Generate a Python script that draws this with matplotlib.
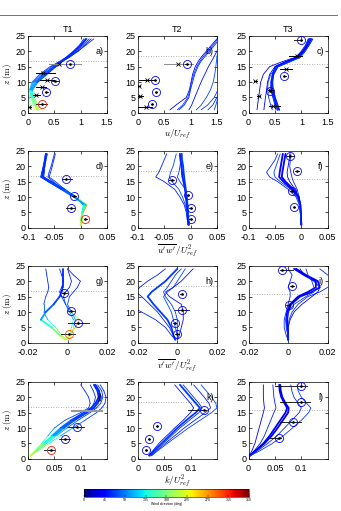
import numpy as np
import matplotlib
matplotlib.use("Agg")
import matplotlib.pyplot as plt
from matplotlib.collections import LineCollection
from matplotlib.lines import Line2D
from matplotlib.colors import Normalize
from matplotlib.colorbar import ColorbarBase

plt.rcParams['font.family'] = ['Liberation Sans', 'DejaVu Sans']
plt.rcParams['mathtext.fontset'] = 'cm'

# ---------------- DATA ----------------
Z = [1, 2.5, 5, 7.5, 10, 12.5, 15, 16.5, 18, 20, 22, 24]
DIR_T1_Z = [215, 195, 160, 120, 85, 70, 65, 62, 60, 60, 60, 60]
DIR_T1_ALT = [225, 240, 265, 275, 110, 72, 65, 62, 60, 60, 60, 60]

COLS = ["T1", "T2", "T3"]
PANEL_LABELS = ["a)", "b)", "c)", "d)", "e)", "f)", "g)", "h)", "i)", "j)", "k)", "l)"]
XLABELS = [r"$u/U_{ref}$", r"$\overline{u'w'}\,/U_{ref}^{2}$",
           r"$\overline{v'w'}\,/U_{ref}^{2}$", r"$k/U_{ref}^{2}$"]
XTICKS = [[0, 0.5, 1, 1.5], [-0.1, -0.05, 0, 0.05], [-0.02, 0, 0.02], [0, 0.05, 0.1]]
XTICKLABELS = [["0", "0.5", "1", "1.5"], ["-0.1", "-0.05", "0", "0.05"],
               ["-0.02", "0", "0.02"], ["0", "0.05", "0.1"]]
XLIMS = [(0, 1.5), (-0.1, 0.05), (-0.02, 0.02), (0, 0.15)]
YTICKS = [0, 5, 10, 15, 20, 25]
HUB_Z = [16.7, 18.5, 15.8]

# Row 1: u/U_ref
U_T1 = [[0.20, 0.15, 0.08, 0.04, 0.10, 0.25, 0.45, 0.60, 0.75, 0.90, 1.02, 1.12],
        [0.25, 0.20, 0.12, 0.06, 0.14, 0.30, 0.50, 0.64, 0.78, 0.95, 1.08, 1.20],
        [0.12, 0.10, 0.06, 0.03, 0.08, 0.22, 0.42, 0.58, 0.72, 0.86, 0.98, 1.06],
        [0.18, 0.14, 0.09, 0.08, 0.18, 0.35, 0.52, 0.62, 0.74, 0.88, 1.00, 1.10],
        [0.05, 0.04, 0.03, 0.05, 0.15, 0.32, 0.50, 0.63, 0.78, 0.95, 1.10, 1.25],
        [0.22, 0.17, 0.10, 0.05, 0.12, 0.28, 0.48, 0.62, 0.77, 0.92, 1.05, 1.16]]
U_T2 = [[0.61, 0.72, 0.92, 0.98, 1.01, 1.04, 1.09, 1.14, 1.20, 1.30, 1.40, 1.50],
        [0.75, 0.85, 0.95, 0.99, 1.02, 1.06, 1.12, 1.17, 1.23, 1.33, 1.43, 1.52],
        [0.78, 0.88, 0.97, 1.00, 1.04, 1.08, 1.14, 1.19, 1.26, 1.36, 1.46, 1.55],
        [0.97, 1.02, 1.08, 1.14, 1.20, 1.27, 1.34, 1.39, 1.44, 1.50, 1.56, 1.62],
        [1.11, 1.20, 1.30, 1.38, 1.43, 1.46, 1.48, 1.49, 1.50, 1.52, 1.55, 1.60],
        [1.20, 1.32, 1.45, 1.52, 1.56, 1.60, 1.62, 1.64, 1.66, 1.68, 1.70, 1.72],
        [1.33, 1.42, 1.50, 1.56, 1.60, 1.63, 1.66, 1.68, 1.70, 1.72, 1.74, 1.76],
        [1.45, 1.48, 1.52, 1.56, 1.60, 1.63, 1.66, 1.68, 1.70, 1.72, 1.74, 1.76]]
U_T3 = [[0.58, 0.55, 0.50, 0.46, 0.45, 0.47, 0.55, 0.75, 0.95, 1.05, 1.12, 1.18],
        [0.55, 0.52, 0.48, 0.44, 0.44, 0.46, 0.52, 0.72, 0.92, 1.03, 1.10, 1.15],
        [0.52, 0.50, 0.46, 0.42, 0.42, 0.45, 0.50, 0.68, 0.90, 1.00, 1.08, 1.13],
        [0.16, 0.17, 0.19, 0.21, 0.23, 0.28, 0.40, 0.62, 0.88, 1.02, 1.12, 1.20],
        [0.29, 0.30, 0.32, 0.34, 0.36, 0.40, 0.50, 0.70, 0.92, 1.05, 1.15, 1.22],
        [0.45, 0.42, 0.38, 0.36, 0.37, 0.42, 0.55, 0.78, 0.98, 1.08, 1.15, 1.20]]
DIR_U_T2 = [40, 65, 60, 50, 70, 65, 60, 68]
DIR_U_T3 = [55, 60, 50, 35, 40, 65]

# Row 2: u'w'
UW_T1 = [[0.0, 0.001, 0.003, 0.010, -0.012, -0.035, -0.060, -0.074, -0.072, -0.070, -0.068, -0.066],
         [0.0, 0.002, 0.004, 0.008, -0.014, -0.038, -0.062, -0.076, -0.074, -0.071, -0.068, -0.064],
         [0.0, 0.001, 0.003, 0.006, -0.010, -0.032, -0.057, -0.072, -0.071, -0.069, -0.067, -0.066],
         [0.0, 0.002, 0.005, 0.012, -0.008, -0.030, -0.055, -0.070, -0.069, -0.068, -0.066, -0.063],
         [0.0, 0.002, 0.004, 0.006, -0.012, -0.035, -0.052, -0.062, -0.060, -0.056, -0.053, -0.050],
         [0.0, 0.001, 0.003, 0.005, -0.010, -0.030, -0.048, -0.060, -0.057, -0.054, -0.051, -0.048]]
UW_T2 = [[-0.004, -0.005, -0.006, -0.007, -0.008, -0.009, -0.011, -0.012, -0.013, -0.014, -0.016, -0.017],
         [-0.003, -0.004, -0.005, -0.006, -0.008, -0.010, -0.013, -0.015, -0.016, -0.017, -0.019, -0.020],
         [-0.005, -0.006, -0.008, -0.012, -0.020, -0.030, -0.050, -0.066, -0.060, -0.055, -0.050, -0.045],
         [-0.004, -0.005, -0.007, -0.010, -0.015, -0.022, -0.035, -0.040, -0.038, -0.033, -0.030, -0.027],
         [-0.002, -0.003, -0.004, -0.005, -0.006, -0.010, -0.020, -0.025, -0.022, -0.020, -0.018, -0.016],
         [-0.004, -0.005, -0.006, -0.008, -0.009, -0.011, -0.014, -0.016, -0.017, -0.018, -0.019, -0.021]]
UW_T3 = [[0.0, -0.0005, -0.001, -0.002, -0.005, -0.015, -0.030, -0.037, -0.036, -0.034, -0.032, -0.030],
         [0.0, -0.0005, -0.001, -0.002, -0.006, -0.018, -0.034, -0.042, -0.041, -0.039, -0.037, -0.035],
         [0.0, -0.001, -0.002, -0.004, -0.010, -0.025, -0.045, -0.060, -0.066, -0.058, -0.050, -0.045],
         [0.0, -0.0005, -0.001, -0.002, -0.004, -0.008, -0.015, -0.018, -0.020, -0.022, -0.021, -0.020],
         [0.0, -0.0005, -0.001, -0.002, -0.005, -0.012, -0.022, -0.026, -0.027, -0.025, -0.023, -0.022],
         [0.0, -0.001, -0.002, -0.003, -0.008, -0.020, -0.040, -0.050, -0.052, -0.048, -0.044, -0.040]]
DIR_UW_T2 = [65, 60, 55, 70, 65, 60]
DIR_UW_T3 = [45, 40, 60, 55, 35, 65]

# Row 3: v'w'
VW_T1 = [[-0.001, -0.004, -0.008, -0.0135, -0.011, -0.007, -0.004, -0.003, -0.0025, -0.0025, -0.0025, -0.0025],
         [0.0, -0.003, -0.006, -0.010, -0.012, -0.012, -0.011, -0.010, -0.0095, -0.010, -0.0105, -0.011],
         [0.001, 0.002, 0.003, 0.004, 0.002, 0.000, 0.001, 0.003, 0.005, 0.0065, 0.003, 0.000],
         [0.0, 0.001, 0.002, 0.003, 0.001, -0.001, -0.002, -0.001, 0.001, 0.002, 0.001, 0.000],
         [0.0, 0.001, 0.004, 0.006, 0.002, -0.001, -0.003, -0.004, -0.003, -0.002, -0.003, -0.004]]
VW_T2 = [[-0.001, -0.002, -0.003, -0.005, -0.0085, -0.012, -0.015, -0.013, -0.010, -0.006, -0.003, 0.000],
         [-0.001, -0.003, -0.006, -0.011, -0.018, -0.026, -0.034, -0.036, -0.034, -0.030, -0.026, -0.022],
         [-0.001, -0.002, -0.004, -0.007, -0.010, -0.014, -0.018, -0.021, -0.019, -0.015, -0.010, -0.006],
         [0.0, 0.0, -0.001, -0.002, -0.003, -0.005, -0.007, -0.005, -0.002, 0.000, 0.002, 0.004],
         [0.0, 0.001, 0.002, 0.003, 0.003, 0.002, -0.004, -0.006, -0.002, 0.002, 0.005, 0.008],
         [0.0, 0.0, 0.0, 0.0, -0.001, -0.003, -0.006, -0.007, -0.005, -0.003, -0.001, 0.002]]
VW_T3 = [[0.0, 0.0, -0.0003, -0.0005, 0.0, 0.0015, 0.006, 0.012, 0.016, 0.015, 0.009, 0.004],
         [0.0, 0.0, -0.0005, -0.001, -0.0005, 0.001, 0.005, 0.010, 0.014, 0.014, 0.008, 0.003],
         [0.0, 0.0, 0.0, 0.0005, 0.002, 0.005, 0.010, 0.016, 0.020, 0.024, 0.020, 0.016],
         [0.0, -0.001, -0.002, -0.002, -0.001, 0.0, 0.001, 0.001, 0.000, 0.001, 0.002, 0.000],
         [0.0, 0.0, 0.0, 0.001, 0.003, 0.007, 0.012, 0.015, 0.016, 0.013, 0.008, 0.006],
         [0.0, 0.0, -0.001, -0.001, 0.0, 0.003, 0.009, 0.013, 0.013, 0.012, 0.010, 0.009]]
DIR_VW_T2 = [65, 60, 55, 70, 50, 65]
DIR_VW_T3 = [45, 40, 60, 55, 35, 65]

# Row 4: k
K_T1 = [[0.005, 0.015, 0.033, 0.050, 0.068, 0.088, 0.112, 0.125, 0.132, 0.137, 0.135, 0.128],
        [0.005, 0.016, 0.035, 0.054, 0.074, 0.095, 0.118, 0.130, 0.138, 0.142, 0.140, 0.132],
        [0.005, 0.014, 0.030, 0.046, 0.062, 0.082, 0.106, 0.120, 0.128, 0.134, 0.132, 0.125],
        [0.005, 0.018, 0.040, 0.062, 0.085, 0.108, 0.130, 0.140, 0.146, 0.148, 0.144, 0.137],
        [0.005, 0.013, 0.026, 0.038, 0.050, 0.070, 0.100, 0.115, 0.118, 0.115, 0.108, 0.100],
        [0.005, 0.015, 0.032, 0.048, 0.065, 0.085, 0.110, 0.120, 0.125, 0.128, 0.124, 0.118]]
K_T2 = [[0.022, 0.030, 0.045, 0.060, 0.075, 0.092, 0.110, 0.118, 0.110, 0.100, 0.090, 0.080],
        [0.024, 0.033, 0.048, 0.064, 0.080, 0.098, 0.116, 0.122, 0.116, 0.106, 0.096, 0.086],
        [0.025, 0.035, 0.052, 0.070, 0.088, 0.108, 0.128, 0.138, 0.135, 0.126, 0.116, 0.106],
        [0.026, 0.037, 0.056, 0.076, 0.096, 0.118, 0.140, 0.150, 0.148, 0.140, 0.130, 0.120],
        [0.020, 0.028, 0.040, 0.055, 0.070, 0.086, 0.100, 0.106, 0.100, 0.090, 0.080, 0.070]]
K_T3 = [[0.001, 0.006, 0.012, 0.016, 0.020, 0.024, 0.028, 0.030, 0.029, 0.028, 0.028, 0.028],
        [0.002, 0.010, 0.022, 0.030, 0.036, 0.042, 0.048, 0.052, 0.050, 0.048, 0.047, 0.046],
        [0.002, 0.012, 0.028, 0.040, 0.050, 0.060, 0.070, 0.073, 0.068, 0.062, 0.059, 0.058],
        [0.002, 0.013, 0.030, 0.044, 0.055, 0.065, 0.075, 0.076, 0.070, 0.064, 0.061, 0.060],
        [0.003, 0.016, 0.036, 0.054, 0.068, 0.082, 0.096, 0.100, 0.094, 0.086, 0.082, 0.080],
        [0.003, 0.020, 0.045, 0.066, 0.083, 0.100, 0.114, 0.118, 0.110, 0.100, 0.094, 0.092]]
DIR_K_T2 = [65, 60, 55, 70, 50]
DIR_K_T3 = [35, 55, 45, 40, 60, 65]

# Measurements: circles (x, z, err lo, err hi, direction)
CX = [[0.79, 0.52, 0.35, 0.26], [0.93, 0.32, 0.34, 0.27], [1.0, 0.68, 0.41],
      [-0.027, -0.012, -0.018, 0.009], [-0.036, -0.004, 0.0, 0.0], [-0.022, -0.008, -0.018, -0.014],
      [-0.0017, 0.002, 0.0054, 0.0005], [0.0022, 0.0022, -0.0012, 0.0], [-0.003, 0.002, 0.0002],
      [0.093, 0.070, 0.043], [0.125, 0.037, 0.022, 0.016], [0.100, 0.100, 0.085, 0.057]]
CZ = [[15.8, 10.4, 6.7, 3.0], [15.8, 10.6, 6.7, 3.0], [23.5, 12.1, 7.0],
      [15.8, 10.2, 6.5, 2.9], [15.6, 10.8, 6.5, 2.9], [23.4, 18.3, 11.9, 6.8],
      [16.0, 10.3, 6.5, 2.9], [15.8, 10.5, 6.5, 3.0], [23.6, 18.5, 12.3],
      [10.4, 6.6, 3.0], [15.8, 10.6, 6.6, 3.0], [23.6, 18.5, 12.0, 6.9]]
CLO = [[0.79, 0.45, 0.32, 0.16], [0.90, 0.30, 0.32, 0.25], [0.87, 0.66, 0.39],
       [-0.036, -0.016, -0.027, 0.006], [-0.040, -0.006, -0.002, -0.002], [-0.030, -0.012, -0.022, -0.016],
       [-0.003, 0.0, 0.0, -0.0035], [0.0015, -0.001, -0.002, -0.001], [-0.004, 0.001, -0.001],
       [0.075, 0.059, 0.030], [0.096, 0.035, 0.020, 0.014], [0.050, 0.060, 0.060, 0.040]]
CHI = [[0.79, 0.58, 0.38, 0.36], [0.96, 0.34, 0.36, 0.29], [1.02, 0.70, 0.43],
       [-0.016, -0.008, -0.010, 0.012], [-0.032, -0.002, 0.002, 0.002], [-0.013, -0.004, -0.014, -0.012],
       [-0.0005, 0.0035, 0.011, 0.004], [0.003, 0.006, -0.0005, 0.001], [0.0025, 0.003, 0.001],
       [0.106, 0.080, 0.052], [0.130, 0.039, 0.024, 0.018], [0.110, 0.116, 0.100, 0.062]]
CDIR = [[45, 45, 45, 320], [45, 45, 45, 45], [45, 45, 45],
        [45, 45, 45, 320], [45, 45, 45, 45], [45, 45, 45, 45],
        [45, 45, 45, 300], [45, 45, 45, 45], [45, 45, 45],
        [45, 45, 320], [45, 45, 45, 45], [45, 45, 45, 45]]

# Row-1 cross markers (x, z, err lo, err hi)
XX = [[0.58, 0.28, 0.37, 0.26, 0.16, 0.02], [0.76, 0.18, 0.02, 0.05, 0.16],
      [0.92, 0.70, 0.13, 0.41, 0.19, 0.47]]
XZ = [[15.9, 12.9, 10.8, 8.4, 5.7, 1.9], [15.8, 10.8, 8.6, 5.6, 1.9],
      [18.3, 14.2, 10.5, 7.5, 5.6, 2.4]]
XLO = [[0.39, 0.16, 0.23, 0.16, 0.10, 0.00], [0.50, 0.03, 0.00, 0.00, 0.00],
       [0.76, 0.60, 0.11, 0.36, 0.16, 0.38]]
XHI = [[1.00, 0.52, 0.50, 0.35, 0.22, 0.05], [1.04, 0.32, 0.04, 0.10, 0.27],
       [1.01, 0.82, 0.15, 0.46, 0.22, 0.60]]

# Extra gray error bar in panel j)
JBAR_Z = 15.5
JBAR_LO = 0.083
JBAR_HI = 0.140

PROFILES = [[U_T1, U_T2, U_T3], [UW_T1, UW_T2, UW_T3], [VW_T1, VW_T2, VW_T3], [K_T1, K_T2, K_T3]]
DIRS = [[None, DIR_U_T2, DIR_U_T3], [None, DIR_UW_T2, DIR_UW_T3],
        [None, DIR_VW_T2, DIR_VW_T3], [None, DIR_K_T2, DIR_K_T3]]

# ---------------- STYLE ----------------
THICK = [[[0, 0, 0, 1, 0, 0], [0, 0, 0, 0, 0, 0, 0, 0], [1, 1, 0, 0, 0, 0]],
         [[1, 0, 1, 0, 0, 0], [1, 1, 0, 0, 0, 0], [1, 1, 0, 0, 0, 0]],
         [[1, 0, 0, 0, 0], [1, 0, 0, 0, 0, 0], [1, 1, 0, 0, 0, 0]],
         [[1, 0, 1, 0, 0, 0], [1, 0, 0, 0, 0], [0, 0, 1, 1, 0, 0]]]
T1_ALT = [[], [3], [4], []]
GRAY_ERR = {(0, 0): [0], (0, 1): [0]}
LW_THICK, LW_THIN = 1.3, 0.6

cmap = plt.get_cmap('jet')
norm = Normalize(0, 360)

fig = plt.figure(figsize=(3.41, 5.11), dpi=100)
lefts = [0.082, 0.404, 0.729]
bottoms = [0.779, 0.554, 0.329, 0.102]
W, H = 0.232, 0.151
FS = 6.5

for r in range(4):
    for c in range(3):
        ax = fig.add_axes([lefts[c], bottoms[r], W, H])
        ax.set_xlim(*XLIMS[r])
        ax.set_ylim(0, 25)
        ax.axhline(HUB_Z[c], color='0.6', lw=0.6, ls=(0, (1, 2)), zorder=1)
        profs = PROFILES[r][c]
        for i, xp in enumerate(profs):
            lw = LW_THICK if THICK[r][c][i] else LW_THIN
            if c == 0:
                dz = DIR_T1_ALT if i in T1_ALT[r] else DIR_T1_Z
                pts = np.column_stack([xp, Z])
                segs = np.stack([pts[:-1], pts[1:]], axis=1)
                dmid = [(dz[j] + dz[j + 1]) / 2 for j in range(len(dz) - 1)]
                lc = LineCollection(segs, colors=cmap(norm(dmid)), linewidths=lw,
                                    capstyle='round', joinstyle='round', zorder=2)
                ax.add_collection(lc)
            else:
                ax.plot(xp, Z, color=cmap(norm(DIRS[r][c][i])), lw=lw, zorder=2,
                        solid_capstyle='round')
        p = r * 3 + c
        grays = GRAY_ERR.get((r, c), [])
        if r == 0:
            for k in range(len(XX[c])):
                ec = '0.55' if k in grays else 'k'
                ax.plot([XLO[c][k], XHI[c][k]], [XZ[c][k]] * 2, color=ec, lw=0.7, zorder=3)
                ax.plot(XX[c][k], XZ[c][k], marker='x', color='k', ms=3.2, mew=0.6, zorder=4)
        for k in range(len(CX[p])):
            ax.plot([CLO[p][k], CHI[p][k]], [CZ[p][k]] * 2, color='k', lw=0.6, zorder=3)
            ax.plot(CX[p][k], CZ[p][k], marker='o', ms=5.8, mfc='none',
                    mec=cmap(norm(CDIR[p][k])), mew=0.6, zorder=4)
            ax.plot(CX[p][k], CZ[p][k], marker='.', ms=1.8, color='k', zorder=5)
        if p == 9:
            ax.plot([JBAR_LO, JBAR_HI], [JBAR_Z] * 2, color='0.6', lw=1.5, zorder=3)
        ax.set_xticks(XTICKS[r])
        ax.set_xticklabels(XTICKLABELS[r])
        ax.set_yticks(YTICKS)
        ax.tick_params(direction='in', length=2, width=0.5, labelsize=FS,
                       top=True, right=True, pad=1.5)
        ax.tick_params(axis='x', pad=3.5)
        for s in ax.spines.values():
            s.set_linewidth(0.5)
        ax.text(0.91, 0.8, PANEL_LABELS[p], transform=ax.transAxes, fontsize=FS,
                ha='center', va='center', zorder=6)
        if c == 0:
            ax.set_ylabel(r"$z\;(\mathrm{m})$", fontsize=FS, labelpad=1)
        if c == 1:
            ax.set_xlabel(XLABELS[r], fontsize=FS, labelpad=0.5)
        if r == 0:
            ax.set_title(COLS[c], fontsize=FS, pad=3)

# header rule
fig.add_artist(Line2D([0.0, 0.988], [0.9706, 0.9706], color='0.45', lw=0.7))

cax = fig.add_axes([0.2463, 0.0274, 0.4839, 0.0157])
cb = ColorbarBase(cax, cmap=cmap, norm=norm, orientation='horizontal',
                  ticks=list(range(0, 361, 45)))
cb.ax.tick_params(labelsize=2.5, length=1.5, width=0.3, pad=0.5, direction='in')
cb.outline.set_linewidth(0.4)
cb.set_label("Wind direction (deg)", fontsize=2.5, labelpad=0.5)

fig.savefig("out.png", dpi=100)
